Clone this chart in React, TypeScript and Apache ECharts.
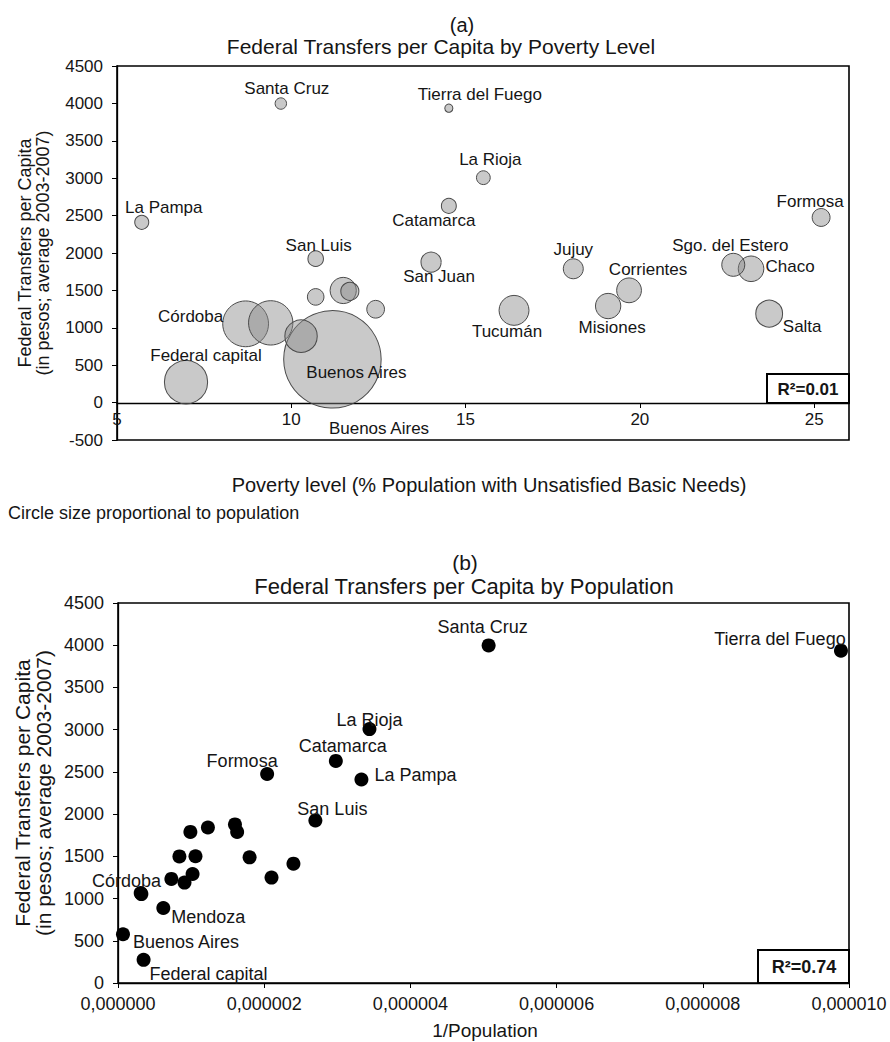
import React, { useEffect, useRef } from 'react';
import * as echarts from 'echarts';

// ---- Data ----
const provinces = ['Buenos Aires', 'Federal capital', 'Córdoba', 'Santa Fe', 'Mendoza', 'Tucumán', 'Entre Ríos', 'Salta', 'Chaco', 'Misiones', 'Corrientes', 'Sgo. del Estero', 'San Juan', 'Jujuy', 'Neuquén', 'Río Negro', 'Formosa', 'Chubut', 'San Luis', 'Catamarca', 'La Pampa', 'La Rioja', 'Santa Cruz', 'Tierra del Fuego'];
const povertyLevel = [11.18, 6.98, 8.69, 9.41, 10.28, 16.39, 11.49, 23.71, 23.19, 19.09, 19.69, 22.68, 14.01, 18.09, 11.68, 12.42, 25.2, 10.7, 10.7, 14.52, 5.71, 15.51, 9.7, 14.52];
const transfersPerCapita = [578, 274, 1053, 1066, 888, 1233, 1499, 1189, 1789, 1291, 1501, 1842, 1878, 1789, 1488, 1248, 2475, 1413, 1924, 2630, 2410, 3007, 3998, 3936];
const inversePopulation = [0.068e-6, 0.35e-6, 0.32e-6, 0.31e-6, 0.62e-6, 0.73e-6, 0.84e-6, 0.91e-6, 0.99e-6, 1.02e-6, 1.06e-6, 1.23e-6, 1.6e-6, 1.63e-6, 1.8e-6, 2.1e-6, 2.04e-6, 2.4e-6, 2.7e-6, 2.98e-6, 3.33e-6, 3.44e-6, 5.07e-6, 9.89e-6];
const populationMillions = [14.5, 2.85, 3.2, 3.0, 1.6, 1.37, 1.05, 1.1, 1.0, 0.98, 0.94, 0.81, 0.62, 0.61, 0.5, 0.48, 0.49, 0.42, 0.37, 0.34, 0.3, 0.29, 0.2, 0.1];
const rSquaredA = '0.01';
const rSquaredB = '0.74';
const povertyTicks = [5, 26, 5]; // min, max, interval
const transferTicksA = [-500, 4500, 500];
const transferTicksB = [0, 4500, 500];
const invPopTicks = [0, 0.00001, 0.000002];

// ---- Label placement (layout only) ----
const labelOffsetA: Record<string, [number, number]> = {
  'Santa Cruz': [6, -15], 'Tierra del Fuego': [31, -14], 'La Rioja': [7, -18], 'Catamarca': [-15, 15],
  'La Pampa': [22, -15], 'San Luis': [3, -13], 'San Juan': [8, 14], 'Córdoba': [-55, -7],
  'Federal capital': [20, -27], 'Buenos Aires': [24, 13], 'Jujuy': [0, -19], 'Corrientes': [19, -21],
  'Tucumán': [-7, 21], 'Misiones': [4, 21], 'Sgo. del Estero': [-3, -19], 'Chaco': [39, -2],
  'Salta': [33, 13], 'Formosa': [-11, -16],
};
const labelOffsetB: Record<string, [number, number]> = {
  'Santa Cruz': [-6, -18], 'Tierra del Fuego': [-61, -12], 'La Rioja': [0, -9], 'Catamarca': [7, -15],
  'Formosa': [-25, -13], 'La Pampa': [54, -4], 'San Luis': [17, -12], 'Córdoba': [-15, -13],
  'Mendoza': [45, 9], 'Buenos Aires': [63, 8], 'Federal capital': [65, 14],
};

const FONT = "'Liberation Sans', Arial, Helvetica, sans-serif";
const TXT = '#151515';

function txt(x: number, y: number, text: string, fontSize: number, opts: any = {}) {
  return {
    type: 'text',
    x,
    y,
    rotation: opts.rotation || 0,
    z: 10,
    style: {
      text,
      fontSize,
      fontFamily: FONT,
      fontWeight: opts.bold ? 'bold' : 'normal',
      fill: TXT,
      textAlign: opts.align || 'center',
      align: opts.align || 'center',
      textVerticalAlign: 'middle',
      verticalAlign: 'middle',
    },
  };
}

export default function App() {
  const ref = useRef<HTMLDivElement>(null);
  useEffect(() => {
    if (!ref.current) return;
    const chart = echarts.init(ref.current, undefined, { renderer: 'svg' });

    const dataA = provinces.map((name, i) => {
      const off = labelOffsetA[name];
      return {
        name,
        value: [povertyLevel[i], transfersPerCapita[i], populationMillions[i]],
        symbolSize: 2 * 12.8 * Math.sqrt(populationMillions[i]),
        label: off
          ? { show: true, position: 'inside', offset: off, formatter: name, fontSize: 17, color: TXT, fontFamily: FONT }
          : { show: false },
      };
    });
    const dataB = provinces.map((name, i) => {
      const off = labelOffsetB[name];
      return {
        name,
        value: [inversePopulation[i], transfersPerCapita[i]],
        label: off
          ? { show: true, position: 'inside', offset: off, formatter: name, fontSize: 18, color: TXT, fontFamily: FONT }
          : { show: false },
      };
    });

    const axisLine = { onZero: false, lineStyle: { color: '#000', width: 1.3 } };
    const axisTick = { show: true, inside: false, length: 5, lineStyle: { color: '#000', width: 1 } };
    const plain = (v: number) => String(Math.round(v));

    const option: any = {
      animation: false,
      backgroundColor: '#fff',
      textStyle: { fontFamily: FONT },
      grid: [
        { left: 117, top: 66, width: 732, height: 374, show: true, borderColor: '#000', borderWidth: 1.6, backgroundColor: 'transparent' },
        // overlay grid whose bottom edge sits on y = 0 of chart (a): carries the poverty axis
        { left: 117, top: 66, width: 732, height: 337, show: false },
        { left: 118, top: 603, width: 731, height: 380, show: true, borderColor: '#000', borderWidth: 1.6, backgroundColor: 'transparent' },
      ],
      xAxis: [
        { gridIndex: 0, type: 'value', min: povertyTicks[0], max: povertyTicks[1], interval: povertyTicks[2], show: false },
        {
          gridIndex: 1, type: 'value', min: povertyTicks[0], max: povertyTicks[1], interval: povertyTicks[2],
          axisLine, axisTick,
          axisLabel: { fontSize: 17, color: TXT, margin: 8, showMaxLabel: false, fontFamily: FONT },
          splitLine: { show: false },
        },
        {
          gridIndex: 2, type: 'value', min: invPopTicks[0], max: invPopTicks[1], interval: invPopTicks[2],
          axisLine, axisTick,
          axisLabel: { fontSize: 18, color: TXT, margin: 12, fontFamily: FONT, formatter: (v: number) => v.toFixed(6).replace('.', ',') },
          splitLine: { show: false },
        },
      ],
      yAxis: [
        {
          gridIndex: 0, type: 'value', min: transferTicksA[0], max: transferTicksA[1], interval: transferTicksA[2],
          axisLine, axisTick,
          axisLabel: { fontSize: 17, color: TXT, margin: 14, fontFamily: FONT, formatter: plain },
          splitLine: { show: false },
        },
        { gridIndex: 1, type: 'value', min: 0, max: transferTicksA[1], show: false },
        {
          gridIndex: 2, type: 'value', min: transferTicksB[0], max: transferTicksB[1], interval: transferTicksB[2],
          axisLine, axisTick,
          axisLabel: { fontSize: 18, color: TXT, margin: 14, fontFamily: FONT, formatter: plain },
          splitLine: { show: false },
        },
      ],
      series: [
        {
          type: 'scatter', xAxisIndex: 0, yAxisIndex: 0, data: dataA,
          itemStyle: { color: 'rgba(135,135,135,0.45)', borderColor: '#4a4a4a', borderWidth: 1, opacity: 1 },
          emphasis: { disabled: true },
          z: 3,
        },
        {
          type: 'scatter', xAxisIndex: 2, yAxisIndex: 2, data: dataB, symbolSize: 14,
          itemStyle: { color: '#000', opacity: 1 },
          emphasis: { disabled: true },
          z: 3,
        },
      ],
      graphic: [
        txt(462, 25, '(a)', 20),
        txt(441, 46, 'Federal Transfers per Capita by Poverty Level', 21),
        txt(25, 253, 'Federal Transfers per Capita', 18, { rotation: Math.PI / 2 }),
        txt(43, 253, '(in pesos; average 2003-2007)', 18, { rotation: Math.PI / 2 }),
        txt(379, 428, 'Buenos Aires', 17),
        {
          type: 'rect', z: 9,
          shape: { x: 767, y: 374, width: 82, height: 29 },
          style: { fill: '#fff', stroke: '#000', lineWidth: 2 },
        },
        txt(808, 389, 'R²=' + rSquaredA, 17, { bold: true }),
        txt(489, 485, 'Poverty level (% Population with Unsatisfied Basic Needs)', 20),
        txt(8, 513, 'Circle size proportional to population', 18, { align: 'left' }),
        txt(465, 562, '(b)', 21),
        txt(464, 586, 'Federal Transfers per Capita by Population', 22),
        txt(22, 793, 'Federal Transfers per Capita', 21, { rotation: Math.PI / 2 }),
        txt(43, 793, '(in pesos; average 2003-2007)', 21, { rotation: Math.PI / 2 }),
        txt(485, 1030, '1/Population', 19),
        {
          type: 'rect', z: 9,
          shape: { x: 758, y: 950, width: 91, height: 33 },
          style: { fill: '#fff', stroke: '#000', lineWidth: 2 },
        },
        txt(804, 967, 'R²=' + rSquaredB, 18, { bold: true }),
      ],
    };
    chart.setOption(option);
    return () => chart.dispose();
  }, []);

  return <div ref={ref} style={{ position: 'absolute', left: 0, top: 0, width: 890, height: 1042 }} />;
}
